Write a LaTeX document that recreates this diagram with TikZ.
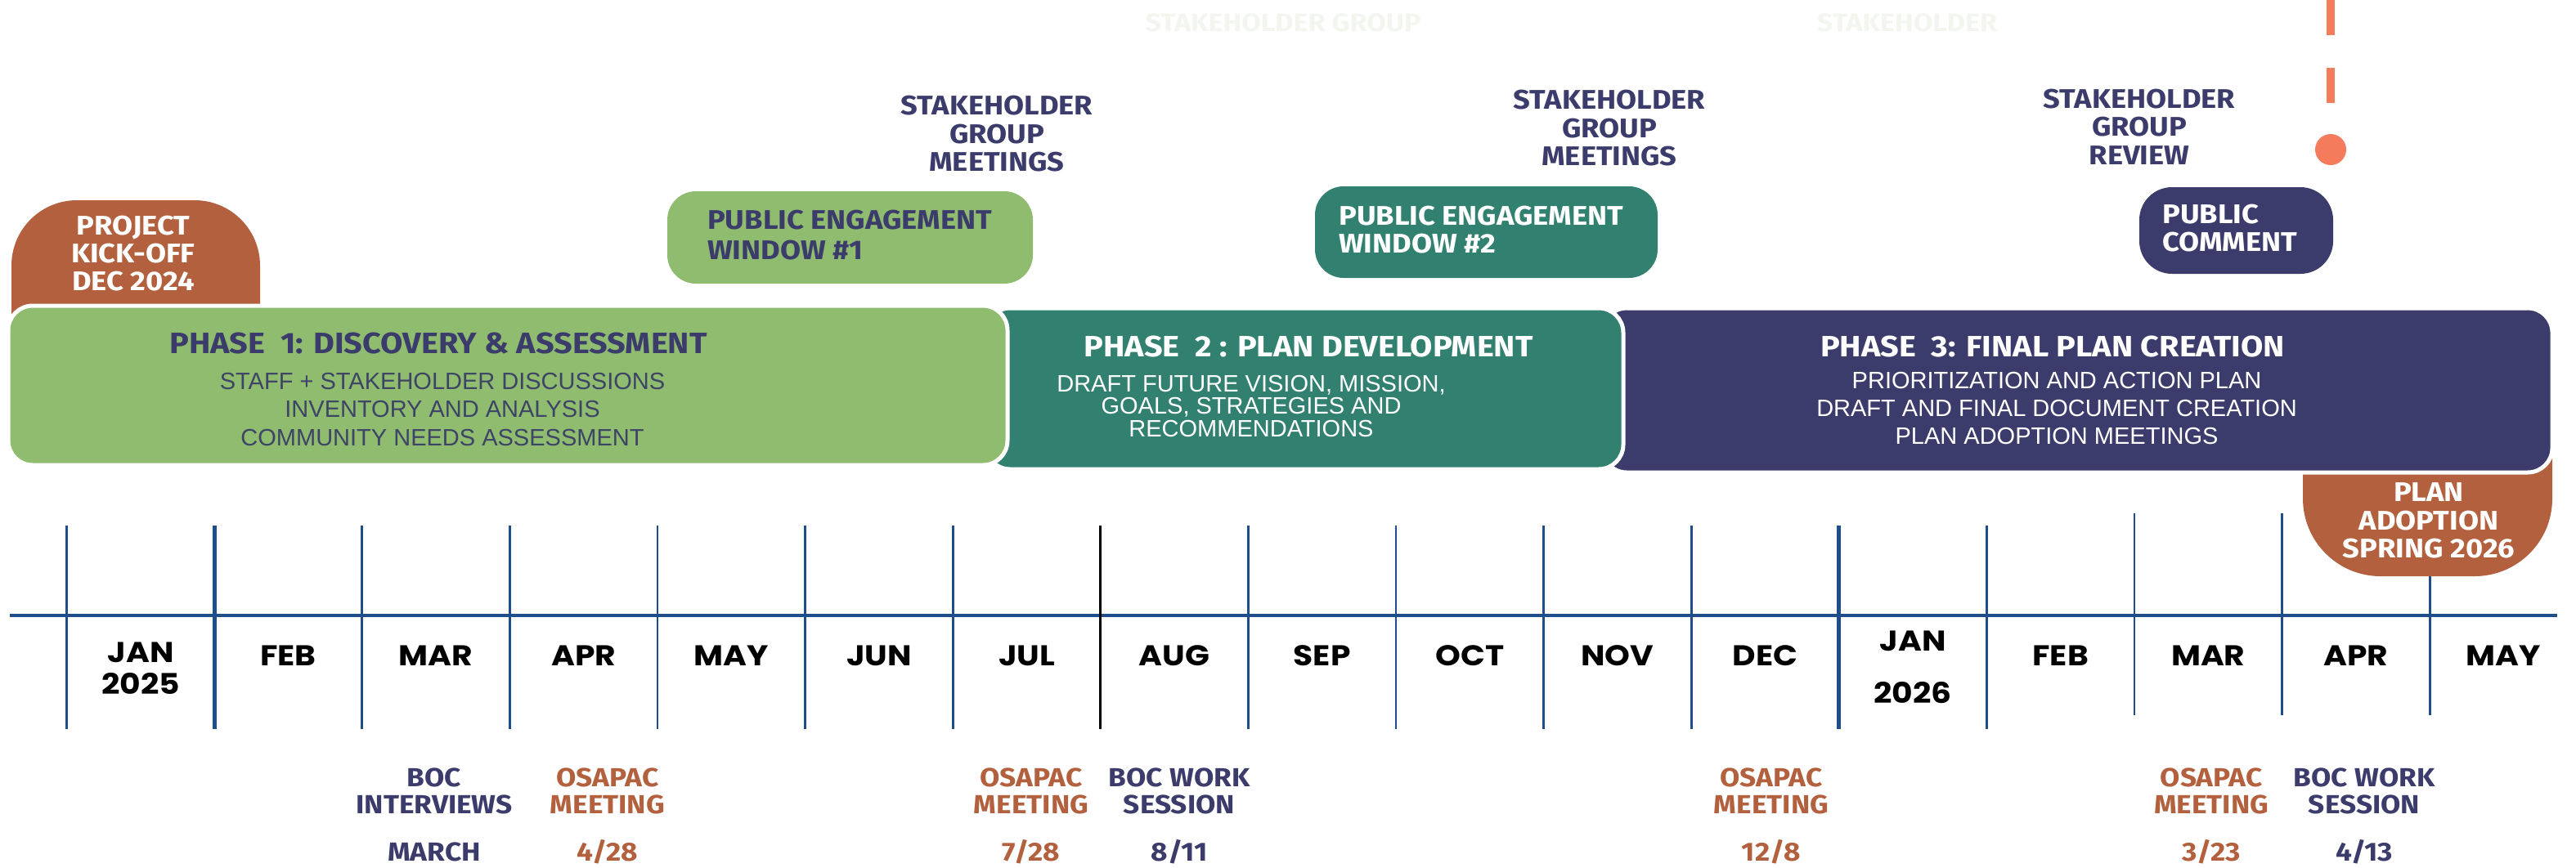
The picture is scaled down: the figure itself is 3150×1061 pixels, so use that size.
\documentclass[tikz,border=0pt]{standalone}
\usepackage{fontspec}
\setmainfont{Liberation Sans}
\newfontfamily\headfont[FakeStretch=1.1]{Fira Sans}
\newfontfamily\monthfont[FakeStretch=1.12]{Poppins}
\newcommand\hf[2]{\headfont\bfseries\fontsize{#1}{#2}\selectfont}
\newcommand\bodyf[1]{\fontsize{29}{#1}\selectfont}
\definecolor{cgreen}{HTML}{8FBC6F}
\definecolor{cteal}{HTML}{32806F}
\definecolor{cnavy}{HTML}{3B3C6B}
\definecolor{cbody}{HTML}{3E4466}
\definecolor{cbrown}{HTML}{B2603D}
\definecolor{cblue}{HTML}{1E4D8C}
\definecolor{cdash}{HTML}{F47C5C}
\definecolor{cghost}{HTML}{F3F6EF}
\tikzset{
  pbox/.style={rectangle, rounded corners=#1, inner sep=0pt, draw=white, line width=5pt},
  lbl/.style={align=center, inner sep=0pt},
  month/.style={inner sep=0pt, align=center, font=\monthfont\bfseries\fontsize{35}{60}\selectfont, text=black},
  stake/.style={lbl, text=cnavy, font=\hf{33}{34.5}},
  lowlbl/.style={lbl, font=\hf{32}{33}},
}
\begin{document}
\begin{tikzpicture}[x=1pt,y=-1pt]
\useasboundingbox (0,0) rectangle (3150,1061);

% ghost texts
\node[lbl, text=cghost, font=\hf{31}{34}] (ghost1) at (1569,28) {STAKEHOLDER GROUP};
\node[lbl, text=cghost, font=\hf{31}{34}] (ghost2) at (2332,28) {STAKEHOLDER};

% timeline
\coordinate (tlA) at (12,753);
\coordinate (tlB) at (3127,753);
\draw[cblue, line width=4pt] (tlA) -- (tlB);
\foreach \i in {0,...,16}{
  \pgfmathsetmacro\xx{81.6+180.6*\i}
  \pgfmathsetmacro\lw{(\i==1||\i==12)?5:2.8}
  \ifnum\i>13 \def\ya{628}\def\yb{875}\else\def\ya{643}\def\yb{892}\fi
  \ifnum\i=7 \def\lc{black}\else\def\lc{cblue}\fi
  \draw[\lc, line width=\lw pt] (\xx,\ya) -- (\xx,\yb);
}

% month labels
\node[month] (jan25) at (172,798) {JAN};
\node[month] (y2025) at (172,836) {2025};
\foreach \m [count=\k from 1] in {FEB,MAR,APR,MAY,JUN,JUL,AUG,SEP,OCT,NOV,DEC}{
  \node[month] (m\k) at ({81.6+180.6*(\k+0.5)},802) {\m};
}
\node[month] (jan26) at (2339,784) {JAN};
\node[month] (y2026) at (2339,847) {2026};
\foreach \m [count=\k from 13] in {FEB,MAR,APR,MAY}{
  \node[month] (m\k) at ({81.6+180.6*(\k+0.5)},802) {\m};
}

% kick-off tab (behind phase 1)
\fill[cbrown] (14,400) -- (14,325) arc[start angle=180, end angle=270, radius=80]
  -- (238,245) arc[start angle=270, end angle=360, radius=80] -- (318,400) -- cycle;
\node[lbl, text=white, font=\hf{33}{34}] (kotext) at (163,310) {PROJECT\\KICK-OFF\\DEC 2024};

% plan adoption tab (behind phase 3)
\fill[cbrown] (2816,540) -- (2816,610) arc[start angle=180, end angle=90, radius=95]
  -- (3026,705) arc[start angle=90, end angle=0, radius=95] -- (3121,540) -- cycle;
\node[lbl, text=white, font=\hf{33}{34.5}] (patext) at (2970,637) {PLAN\\ADOPTION\\SPRING 2026};

% phase boxes
\node[pbox=30pt, fill=cnavy, minimum width=1162pt, minimum height=201pt] (p3) at (2540,477.5) {};
\node[pbox=30pt, fill=cteal, minimum width=780pt, minimum height=197pt] (p2) at (1595,475.5) {};
\node[pbox=30pt, fill=cgreen, minimum width=1222pt, minimum height=195pt] (p1) at (621,471.5) {};

\node[lbl, text=cnavy, font=\hf{36}{40}] (p1t) at (536,420) {PHASE\ \ 1: DISCOVERY \& ASSESSMENT};
\node[lbl, text=cbody, font=\bodyf{34.5}] (p1b) at (541,501) {STAFF + STAKEHOLDER DISCUSSIONS\\INVENTORY AND ANALYSIS\\COMMUNITY NEEDS ASSESSMENT};

\node[lbl, text=white, font=\hf{36}{40}] (p2t) at (1600,424) {PHASE\ \ 2 : PLAN DEVELOPMENT};
\node[lbl, text=white, font=\bodyf{27.5}] (p2b) at (1530,497) {DRAFT FUTURE VISION, MISSION,\\GOALS, STRATEGIES AND\\RECOMMENDATIONS};

\node[lbl, text=white, font=\hf{36}{40}] (p3t) at (2510,424) {PHASE\ \ 3: FINAL PLAN CREATION};
\node[lbl, text=white, font=\bodyf{34}] (p3b) at (2515,500) {PRIORITIZATION AND ACTION PLAN\\DRAFT AND FINAL DOCUMENT CREATION\\PLAN ADOPTION MEETINGS};

% engagement windows
\node[pbox=35pt, draw=none, fill=cgreen, minimum width=447pt, minimum height=113pt] (pe1) at (1039.5,290.5) {};
\node[lbl, align=left, anchor=west, text=cnavy, font=\hf{33}{37}] (pe1t) at (865,288) {PUBLIC ENGAGEMENT\\WINDOW \#1};
\node[pbox=35pt, draw=none, fill=cteal, minimum width=419pt, minimum height=112pt] (pe2) at (1817.5,284) {};
\node[lbl, align=left, anchor=west, text=white, font=\hf{33}{34}] (pe2t) at (1637,281) {PUBLIC ENGAGEMENT\\WINDOW \#2};
\node[pbox=40pt, draw=none, fill=cnavy, minimum width=237pt, minimum height=106pt] (pc) at (2734.5,282) {};
\node[lbl, align=left, anchor=west, text=white, font=\hf{33}{34}] (pct) at (2644,279) {PUBLIC\\COMMENT};

% stakeholder labels
\node[stake] (sg1) at (1219,164) {STAKEHOLDER\\GROUP\\MEETINGS};
\node[stake] (sg2) at (1968,157) {STAKEHOLDER\\GROUP\\MEETINGS};
\node[stake] (sg3) at (2616,155) {STAKEHOLDER\\GROUP\\REVIEW};

% orange dashed marker
\coordinate (dtop) at (2850,0);
\node[circle, fill=cdash, minimum size=38pt, inner sep=0pt] (dot) at (2850,183) {};
\draw[cdash, line width=10pt, dash pattern=on 43pt off 40pt] (dtop) -- (dot.north);

% lower labels
\node[lowlbl, text=cnavy] (boc1) at (531,967.5) {BOC\\INTERVIEWS};
\node[lowlbl, text=cnavy] (boc1d) at (531,1042) {MARCH};
\node[lowlbl, text=cbrown] (os1) at (743,967.5) {OSAPAC\\MEETING};
\node[lowlbl, text=cbrown] (os1d) at (743,1042) {4/28};
\node[lowlbl, text=cbrown] (os2) at (1261,967.5) {OSAPAC\\MEETING};
\node[lowlbl, text=cbrown] (os2d) at (1261,1042) {7/28};
\node[lowlbl, text=cnavy] (boc2) at (1442,967.5) {BOC WORK\\SESSION};
\node[lowlbl, text=cnavy] (boc2d) at (1442,1042) {8/11};
\node[lowlbl, text=cbrown] (os3) at (2166,967.5) {OSAPAC\\MEETING};
\node[lowlbl, text=cbrown] (os3d) at (2166,1042) {12/8};
\node[lowlbl, text=cbrown] (os4) at (2704,967.5) {OSAPAC\\MEETING};
\node[lowlbl, text=cbrown] (os4d) at (2704,1042) {3/23};
\node[lowlbl, text=cnavy] (boc3) at (2891,967.5) {BOC WORK\\SESSION};
\node[lowlbl, text=cnavy] (boc3d) at (2891,1042) {4/13};
\end{tikzpicture}
\end{document}
